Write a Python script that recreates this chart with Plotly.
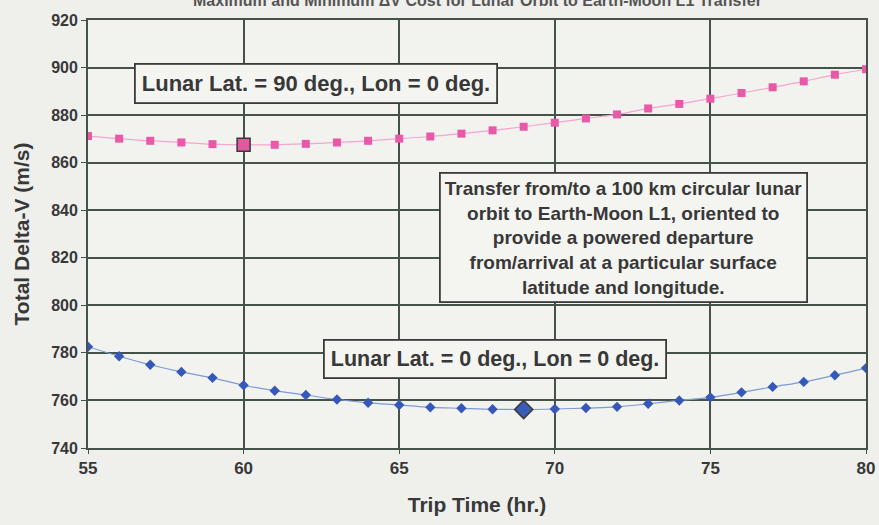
import plotly.graph_objects as go

trip_time = list(range(55, 81))
lat90_dv = [871.2, 870.1, 869.2, 868.5, 867.8, 867.5, 867.5, 867.9, 868.5, 869.2,
            870.1, 871.0, 872.2, 873.6, 875.1, 876.8, 878.6, 880.3, 882.8, 884.7,
            886.9, 889.3, 891.7, 894.2, 897.0, 899.3]
lat0_dv = [782.6, 778.6, 775.0, 772.0, 769.5, 766.4, 764.1, 762.3, 760.4, 759.0,
           758.1, 757.1, 756.7, 756.3, 756.2, 756.4, 756.8, 757.3, 758.6, 760.0,
           761.3, 763.4, 765.7, 767.8, 770.6, 773.6]
min90 = (60, 867.5)
min0 = (69, 756.2)

x_ticks = [55, 60, 65, 70, 75, 80]
y_ticks = [740, 760, 780, 800, 820, 840, 860, 880, 900, 920]

title_text = "Maximum and Minimum ΔV Cost for Lunar Orbit to Earth-Moon L1 Transfer"
label90 = "Lunar Lat. = 90 deg., Lon = 0 deg."
label0 = "Lunar Lat. = 0 deg., Lon = 0 deg."
note = ("Transfer from/to a 100 km circular lunar<br>orbit to Earth-Moon L1, oriented to<br>"
        "provide a powered departure<br>from/arrival at a particular surface<br>latitude and longitude.")

FONT = "Liberation Sans, Arial, sans-serif"
TXT = "#383838"
GRID = "#45524a"

fig = go.Figure()
fig.add_trace(go.Scatter(x=trip_time, y=lat90_dv, mode="lines+markers",
                         line=dict(color="#f4a6cf", width=1.2, shape="spline"),
                         marker=dict(symbol="square", size=8, color="#e85aa8"),
                         showlegend=False))
fig.add_trace(go.Scatter(x=trip_time, y=lat0_dv, mode="lines+markers",
                         line=dict(color="#7f9ad6", width=1.2, shape="spline"),
                         marker=dict(symbol="diamond", size=8, color="#3658b8"),
                         showlegend=False))
fig.add_trace(go.Scatter(x=[min90[0]], y=[min90[1]], mode="markers",
                         marker=dict(symbol="square", size=13, color="#e05aa0",
                                     line=dict(color="#3a3a3a", width=1.5)),
                         showlegend=False))
fig.add_trace(go.Scatter(x=[min0[0]], y=[min0[1]], mode="markers",
                         marker=dict(symbol="diamond", size=14, color="#3a5bb8",
                                     line=dict(color="#3a3a3a", width=1.5)),
                         showlegend=False))

fig.update_layout(
    width=879, height=525,
    margin=dict(l=88, r=13, t=20, b=77, autoexpand=False),
    paper_bgcolor="#efefec", plot_bgcolor="#f2f2ef",
    font=dict(family=FONT, color=TXT),
    xaxis=dict(range=[55, 80], tickvals=x_ticks, ticktext=[f"<b>{v}</b>" for v in x_ticks],
               showgrid=True, gridcolor=GRID, gridwidth=1.8, zeroline=False,
               showline=True, linecolor=GRID, linewidth=1.8, mirror=True,
               ticks="outside", ticklen=4, tickcolor=GRID, automargin=False,
               tickfont=dict(size=17, family=FONT, color=TXT),
               title=dict(text="<b>Trip Time (hr.)</b>", font=dict(size=21, family=FONT, color=TXT),
                          standoff=20)),
    yaxis=dict(range=[740, 920], tickvals=y_ticks, ticktext=[f"<b>{v}</b>" for v in y_ticks],
               showgrid=True, gridcolor=GRID, gridwidth=1.8, zeroline=False,
               showline=True, linecolor=GRID, linewidth=1.8, mirror=True,
               ticks="outside", ticklen=5, tickcolor=GRID, automargin=False,
               tickfont=dict(size=16, family=FONT, color=TXT),
               title=dict(text="<b>Total Delta-V (m/s)</b>", font=dict(size=21, family=FONT, color=TXT),
                          standoff=16)),
)

fig.add_annotation(xref="paper", yref="paper", x=0.5, y=1.045, yanchor="middle",
                   text=f"<b>{title_text}</b>", showarrow=False,
                   font=dict(size=16, family=FONT, color="#555555"))
fig.add_annotation(x=62.33, y=893.5, text=f"<b>{label90}</b>", showarrow=False,
                   font=dict(size=22, family=FONT, color=TXT),
                   bgcolor="#f4f4f1", bordercolor="#3a3a3a", borderwidth=1.8, borderpad=6)
fig.add_annotation(x=72.2, y=828.5, text=f"<b>{note}</b>", showarrow=False,
                   font=dict(size=19, family=FONT, color=TXT), align="center",
                   bgcolor="#f4f4f1", bordercolor="#3a3a3a", borderwidth=1.8, borderpad=4)
fig.add_annotation(x=68.08, y=777.4, text=f"<b>{label0}</b>", showarrow=False,
                   font=dict(size=21.5, family=FONT, color=TXT),
                   bgcolor="#f4f4f1", bordercolor="#3a3a3a", borderwidth=1.8, borderpad=6)

fig.write_html("out.html", config={"displayModeBar": False},
               post_script="document.body.style.margin='0';document.body.style.overflow='hidden';")
